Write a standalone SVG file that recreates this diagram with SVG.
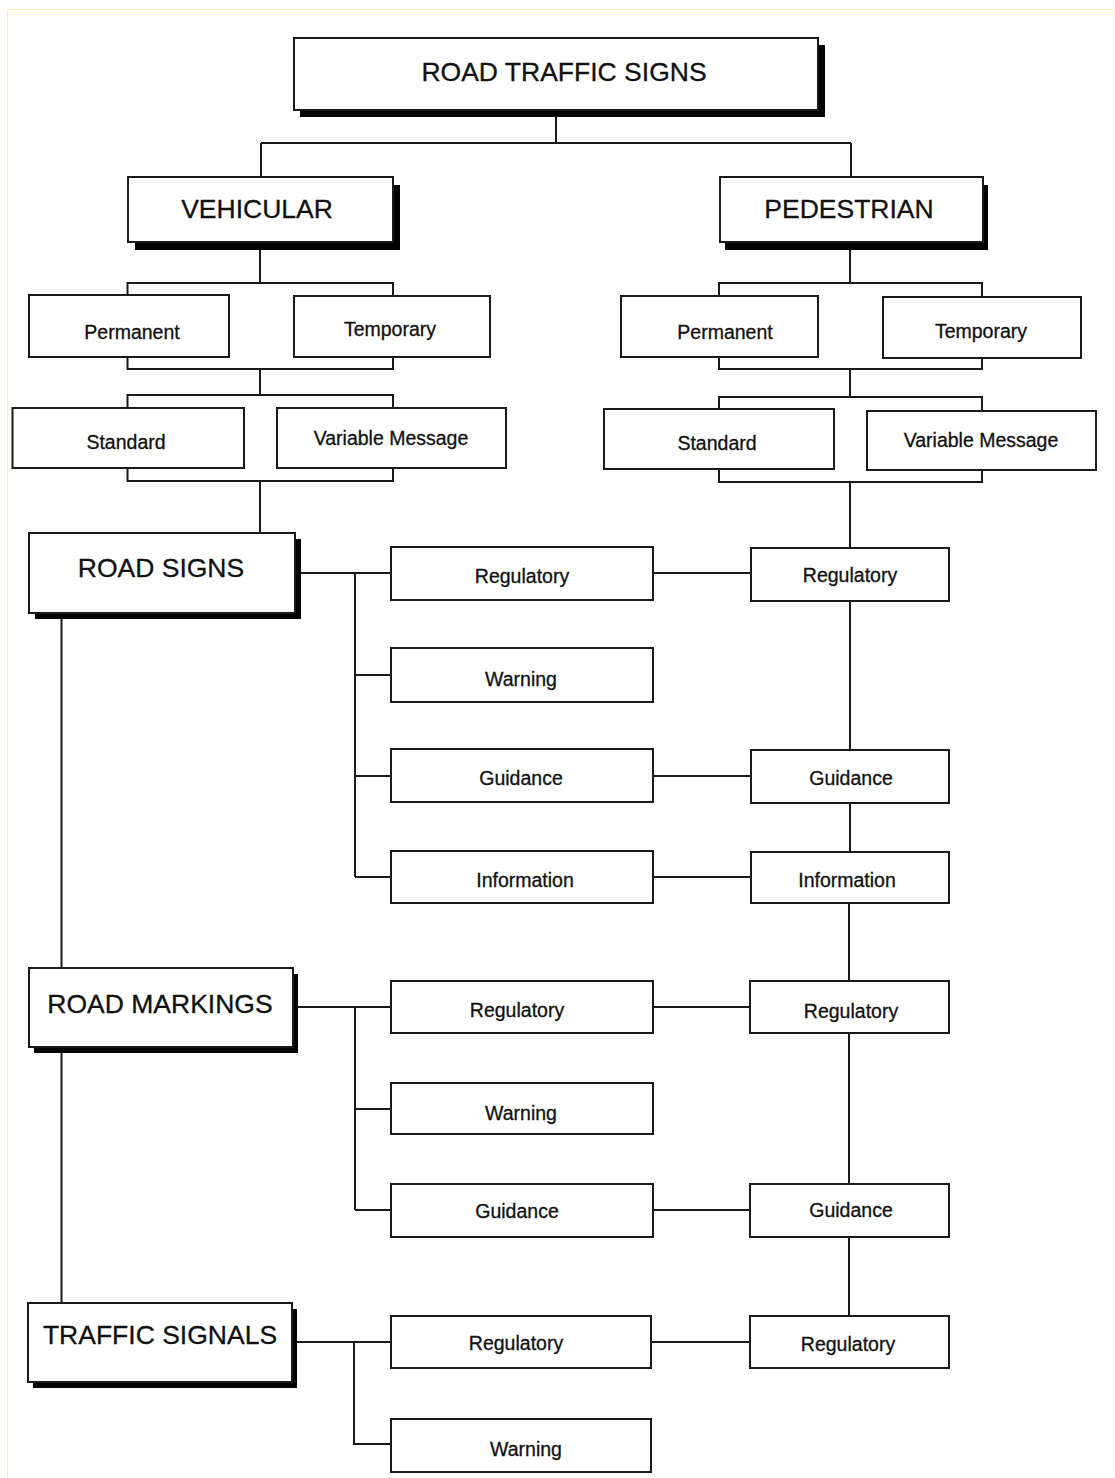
<svg xmlns="http://www.w3.org/2000/svg" width="1115" height="1478" viewBox="0 0 1115 1478">
<style>
.bg{fill:#ffffff}
.frame{stroke:#f7efb8;stroke-width:1;fill:none}
.ln{stroke:#1a1a1a;stroke-width:2;fill:none}
.box{fill:#ffffff;stroke:#1a1a1a;stroke-width:2}
.sh{fill:#000000}
.h{font-family:"Liberation Sans",Arial,sans-serif;font-size:26.5px;fill:#111;stroke:#111;stroke-width:0.3;text-anchor:middle}
.t{font-family:"Liberation Sans",Arial,sans-serif;font-size:19.5px;fill:#111;stroke:#111;stroke-width:0.3;text-anchor:middle}
</style>
<rect class="bg" x="0" y="0" width="1115" height="1478"/>
<path class="frame" d="M7.5 1478 V9.5 H1115"/>

<g id="connectors">
  <path class="ln" d="M556 110 V143 M261 143 H851 M261 143 V177 M851 143 V177"/>
  <rect class="ln" x="127.5" y="283" width="265.5" height="86"/>
  <rect class="ln" x="127.5" y="395" width="265.5" height="86"/>
  <rect class="ln" x="719" y="283" width="263" height="86"/>
  <rect class="ln" x="719" y="397" width="263" height="85"/>
  <path class="ln" d="M260 242 V283 M260 369 V395 M260 481 V533"/>
  <path class="ln" d="M850 242 V283 M850 369 V397 M850 482 V548"/>
  <path class="ln" d="M300 573 H391 M355 573 V877 M355 675 H391 M355 776 H391 M355 877 H391"/>
  <path class="ln" d="M653 573 H751 M653 776 H751 M653 877 H751"/>
  <path class="ln" d="M850 601 V750 M850 803 V852 M849 903 V981 M849 1033 V1184 M849 1237 V1316"/>
  <path class="ln" d="M61.5 619 V968 M61.5 1053 V1303"/>
  <path class="ln" d="M298 1007 H391 M355 1007 V1210 M355 1109 H391 M355 1210 H391"/>
  <path class="ln" d="M653 1007 H750 M653 1210 H750"/>
  <path class="ln" d="M297 1342 H391 M354 1342 V1444 H391 M651 1342 H750"/>
</g>

<g id="road-traffic-signs">
  <rect class="sh" x="300" y="45" width="525" height="72"/>
  <rect class="box" x="294" y="38" width="524" height="72"/>
  <text class="h" x="564" y="81">ROAD TRAFFIC SIGNS</text>
</g>
<g id="vehicular">
  <rect class="sh" x="135" y="185" width="265" height="65"/>
  <rect class="box" x="128" y="177" width="265" height="65"/>
  <text class="h" x="257" y="218">VEHICULAR</text>
</g>
<g id="pedestrian">
  <rect class="sh" x="725" y="185" width="263" height="65"/>
  <rect class="box" x="720" y="177" width="263" height="65"/>
  <text class="h" x="849" y="218">PEDESTRIAN</text>
</g>

<g id="veh-permanent"><rect class="box" x="29" y="295" width="200" height="62"/><text class="t" x="132" y="339">Permanent</text></g>
<g id="veh-temporary"><rect class="box" x="294" y="296" width="196" height="61"/><text class="t" x="390" y="336">Temporary</text></g>
<g id="veh-standard"><rect class="box" x="12.5" y="408" width="231.5" height="60"/><text class="t" x="126" y="449">Standard</text></g>
<g id="veh-variable"><rect class="box" x="277" y="408" width="229" height="60"/><text class="t" x="391" y="445">Variable Message</text></g>

<g id="ped-permanent"><rect class="box" x="621" y="296" width="197" height="61"/><text class="t" x="725" y="339">Permanent</text></g>
<g id="ped-temporary"><rect class="box" x="883" y="297" width="198" height="61"/><text class="t" x="981" y="338">Temporary</text></g>
<g id="ped-standard"><rect class="box" x="604" y="409" width="230" height="60"/><text class="t" x="717" y="450">Standard</text></g>
<g id="ped-variable"><rect class="box" x="867" y="411" width="229" height="59"/><text class="t" x="981" y="447">Variable Message</text></g>

<g id="road-signs">
  <rect class="sh" x="35" y="539" width="266" height="80"/>
  <rect class="box" x="29" y="533" width="266" height="80"/>
  <text class="h" x="161" y="577">ROAD SIGNS</text>
</g>
<g id="rs-regulatory"><rect class="box" x="391" y="547" width="262" height="53"/><text class="t" x="522" y="583">Regulatory</text></g>
<g id="rs-warning"><rect class="box" x="391" y="648" width="262" height="54"/><text class="t" x="521" y="686">Warning</text></g>
<g id="rs-guidance"><rect class="box" x="391" y="749" width="262" height="53"/><text class="t" x="521" y="785">Guidance</text></g>
<g id="rs-information"><rect class="box" x="391" y="851" width="262" height="52"/><text class="t" x="525" y="887">Information</text></g>
<g id="rsp-regulatory"><rect class="box" x="751" y="548" width="198" height="53"/><text class="t" x="850" y="582">Regulatory</text></g>
<g id="rsp-guidance"><rect class="box" x="751" y="750" width="198" height="53"/><text class="t" x="851" y="785">Guidance</text></g>
<g id="rsp-information"><rect class="box" x="751" y="852" width="198" height="51"/><text class="t" x="847" y="887">Information</text></g>

<g id="road-markings">
  <rect class="sh" x="34" y="974" width="264" height="79"/>
  <rect class="box" x="29" y="968" width="264" height="79"/>
  <text class="h" x="160" y="1013">ROAD MARKINGS</text>
</g>
<g id="rm-regulatory"><rect class="box" x="391" y="981" width="262" height="52"/><text class="t" x="517" y="1017">Regulatory</text></g>
<g id="rm-warning"><rect class="box" x="391" y="1083" width="262" height="51"/><text class="t" x="521" y="1120">Warning</text></g>
<g id="rm-guidance"><rect class="box" x="391" y="1184" width="262" height="53"/><text class="t" x="517" y="1218">Guidance</text></g>
<g id="rmp-regulatory"><rect class="box" x="750" y="981" width="199" height="52"/><text class="t" x="851" y="1018">Regulatory</text></g>
<g id="rmp-guidance"><rect class="box" x="750" y="1184" width="199" height="53"/><text class="t" x="851" y="1217">Guidance</text></g>

<g id="traffic-signals">
  <rect class="sh" x="33" y="1309" width="264" height="79"/>
  <rect class="box" x="28" y="1303" width="264" height="79"/>
  <text class="h" x="160" y="1344">TRAFFIC SIGNALS</text>
</g>
<g id="ts-regulatory"><rect class="box" x="391" y="1316" width="260" height="52"/><text class="t" x="516" y="1350">Regulatory</text></g>
<g id="ts-warning"><rect class="box" x="391" y="1419" width="260" height="53"/><text class="t" x="526" y="1456">Warning</text></g>
<g id="tsp-regulatory"><rect class="box" x="750" y="1316" width="199" height="52"/><text class="t" x="848" y="1351">Regulatory</text></g>
</svg>
